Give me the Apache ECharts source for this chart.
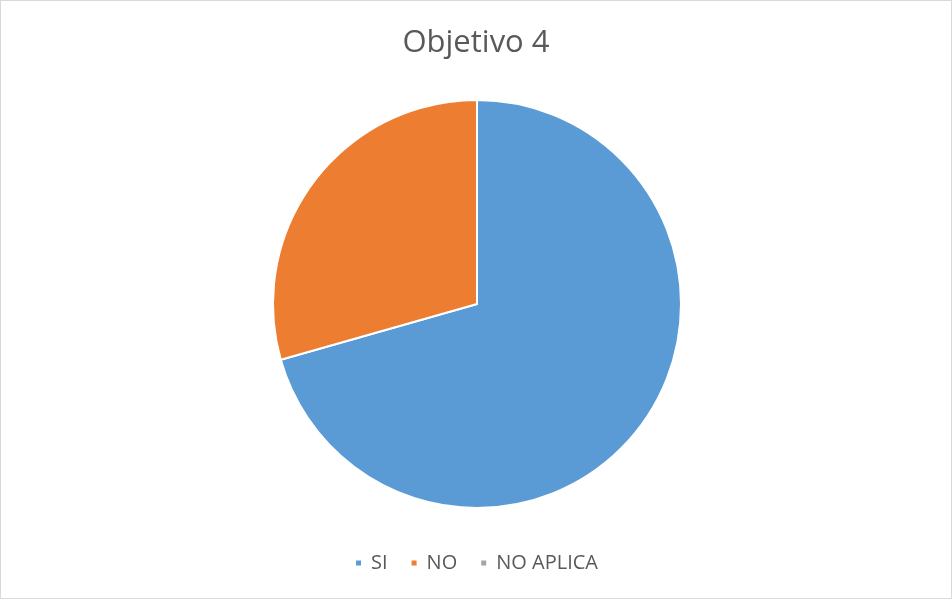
<!DOCTYPE html>
<html>
<head>
<meta charset="utf-8">
<script src="https://cdn.jsdelivr.net/npm/echarts@6/dist/echarts.min.js"></script>
<style>
  html, body { margin: 0; padding: 0; background: #fff; }
  #chart { width: 950px; height: 597px; border: 1px solid #d9d9d9; }
</style>
</head>
<body>
<div id="chart"></div>
<script>
const categories = ['SI', 'NO', 'NO APLICA'];
const values = [12, 5, 0];
const colors = ['#5B9BD5', '#ED7D31', '#A5A5A5'];

const chart = echarts.init(document.getElementById('chart'));

chart.setOption({
  backgroundColor: '#fff',
  color: colors,
  title: {
    text: 'Objetivo 4',
    left: 'center',
    top: 22,
    textStyle: { fontFamily: 'Open Sans', fontSize: 31, fontWeight: 'normal', color: '#595959' }
  },
  legend: {
    bottom: 20,
    left: 'center',
    icon: 'rect',
    itemWidth: 7,
    itemHeight: 7,
    itemGap: 22,
    textStyle: { fontFamily: 'Open Sans', fontSize: 20, color: '#595959', padding: [0, 0, 0, 4] },
    data: categories
  },
  series: [{
    type: 'pie',
    center: [476, 303],
    radius: 204,
    startAngle: 90,
    clockwise: true,
    label: { show: false },
    labelLine: { show: false },
    emphasis: { scale: false },
    itemStyle: { borderColor: '#fff', borderWidth: 2 },
    data: categories.map((name, i) => ({ name, value: values[i] }))
  }]
});
</script>
</body>
</html>
